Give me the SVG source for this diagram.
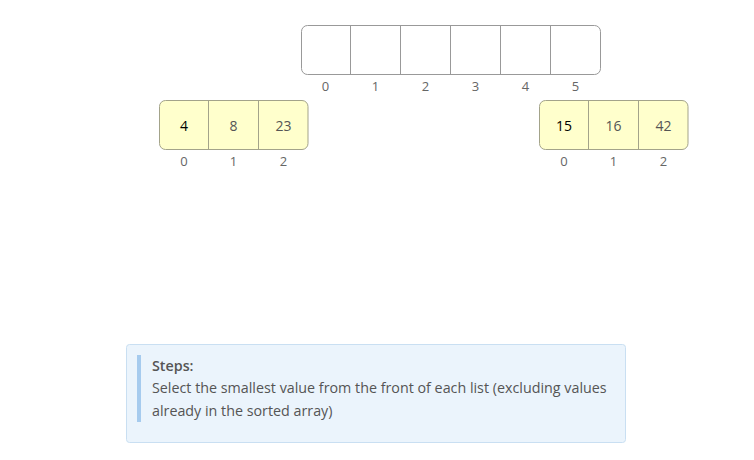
<svg xmlns="http://www.w3.org/2000/svg" width="754" height="460" viewBox="0 0 754 460">
<style>
text{font-family:"Open Sans","Liberation Sans",sans-serif;}
.idx{font-size:13px;fill:#666;text-anchor:middle;}
.val{font-size:14px;fill:#555;text-anchor:middle;}
.cur{fill:#000;font-weight:500;}
.arr{fill:#fff;stroke:#999;stroke-width:1;}
.lst{fill:#ffffcc;stroke:#a3a38a;stroke-width:1;}
.divA{stroke:#999;stroke-width:1;}
.divL{stroke:#a3a38a;stroke-width:1;}
.step{font-size:14.3px;fill:#555;}
</style>
<rect width="754" height="460" fill="#fff"/>
<g id="sorted-array">
<rect class="arr" x="301.5" y="25.5" width="299" height="49" rx="6"/>
<line class="divA" x1="350.5" y1="25.5" x2="350.5" y2="74.5"/>
<line class="divA" x1="400.5" y1="25.5" x2="400.5" y2="74.5"/>
<line class="divA" x1="450.5" y1="25.5" x2="450.5" y2="74.5"/>
<line class="divA" x1="500.5" y1="25.5" x2="500.5" y2="74.5"/>
<line class="divA" x1="550.5" y1="25.5" x2="550.5" y2="74.5"/>
<text class="idx" x="325.5" y="91">0</text>
<text class="idx" x="375.5" y="91">1</text>
<text class="idx" x="425.5" y="91">2</text>
<text class="idx" x="475.5" y="91">3</text>
<text class="idx" x="525.5" y="91">4</text>
<text class="idx" x="575.5" y="91">5</text>
</g>
<g id="left-list">
<rect class="lst" x="159.5" y="100.5" width="148.5" height="49" rx="6"/>
<line class="divL" x1="208.5" y1="100.5" x2="208.5" y2="149.5"/>
<line class="divL" x1="258.5" y1="100.5" x2="258.5" y2="149.5"/>
<text class="val cur" x="184" y="131">4</text>
<text class="val" x="233.5" y="131">8</text>
<text class="val" x="283.5" y="131">23</text>
<text class="idx" x="184" y="166">0</text>
<text class="idx" x="233.5" y="166">1</text>
<text class="idx" x="283.5" y="166">2</text>
</g>
<g id="right-list">
<rect class="lst" x="539.5" y="100.5" width="148.5" height="49" rx="6"/>
<line class="divL" x1="588.5" y1="100.5" x2="588.5" y2="149.5"/>
<line class="divL" x1="638.5" y1="100.5" x2="638.5" y2="149.5"/>
<text class="val cur" x="564" y="131">15</text>
<text class="val" x="613.5" y="131">16</text>
<text class="val" x="663.5" y="131">42</text>
<text class="idx" x="564" y="166">0</text>
<text class="idx" x="613.5" y="166">1</text>
<text class="idx" x="663.5" y="166">2</text>
</g>
<g id="connectors"></g>
<g id="steps">
<rect x="126.5" y="344.5" width="499" height="98" rx="3" fill="#ebf4fc" stroke="#c9dff2"/>
<rect x="137" y="355" width="4" height="67" fill="#a6cbee"/>
<text class="step" x="152" y="371" font-weight="600">Steps:</text>
<text class="step" x="152" y="393">Select the smallest value from the front of each list (excluding values</text>
<text class="step" x="152" y="416">already in the sorted array)</text>
</g>
</svg>
